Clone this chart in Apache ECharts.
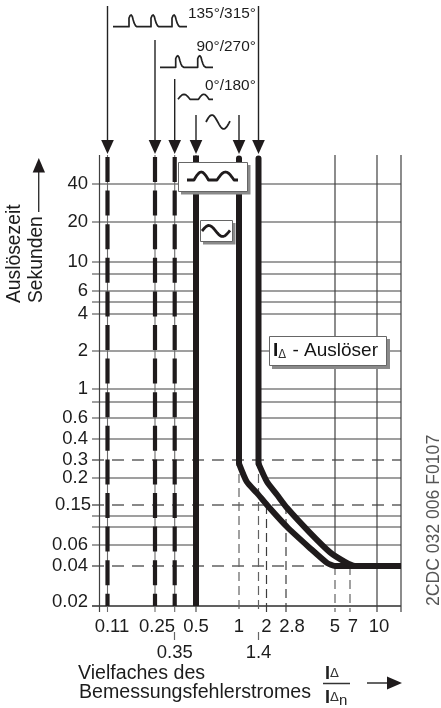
<!DOCTYPE html>
<html><head><meta charset="utf-8">
<style>html,body{margin:0;padding:0;background:#fff}#c{width:441px;height:708px}</style>
<script src="https://cdn.jsdelivr.net/npm/echarts@6/dist/echarts.min.js"></script>
</head><body><div id="c"></div>
<script>
// ---- values ----
const xLabelsTop = [0.11, 0.25, 0.5, 1, 2, 2.8, 5, 7, 10];
const xLabelsLow = [0.35, 1.4];
const yLabels = [40, 20, 10, 6, 4, 2, 1, 0.6, 0.4, 0.3, 0.2, 0.15, 0.06, 0.04, 0.02];
const ySolidLines = [40, 20, 10, 8, 6, 5, 4, 2, 1, 0.8, 0.6, 0.4, 0.2, 0.125, 0.1, 0.06];
const yDashedLines = [0.3, 0.15, 0.04];
const pulsedLimits = [0.11, 0.25, 0.35];
const curveLowerX = [1, 1.16, 1.37, 2.02, 2.85, 3.88, 4.64, 5, 14];
const curveLowerT = [0.28, 0.193, 0.172, 0.15, 0.1, 0.057, 0.043, 0.04, 0.04];
const curveUpperX = [1.4, 2.02, 2.43, 2.85, 3.88, 4.78, 6.33, 7.56, 14];
const curveUpperT = [0.28, 0.193, 0.169, 0.143, 0.087, 0.053, 0.044, 0.04, 0.04];

// ---- the printed scale is schematic (not a true log scale): stops and where they sit ----
const xStops = [0.1, 0.11, 0.25, 0.35, 0.5, 1, 1.4, 2, 2.8, 5, 7, 10, 14];
const xStopAt = [99.5, 107.5, 155, 174.7, 196, 239, 258.5, 266.5, 286, 335, 350, 377, 401];
const yStops = [60, 40, 20, 10, 8, 6, 5, 4, 2, 1, 0.8, 0.6, 0.4, 0.3, 0.2, 0.15, 0.125, 0.1, 0.06, 0.04, 0.02];
const yStopAt = [155, 184, 222, 262, 274, 291, 302, 314, 351, 389, 402, 418, 439, 460, 478, 505, 516, 527, 545, 566, 606];
const X0 = 92, X1 = 401.6, Y0 = 155, Y1 = 612;
const X = v => xStopAt[xStops.indexOf(v)] ?? interp(v, xStops, xStopAt);
const Y = v => yStopAt[yStops.indexOf(v)] ?? interp(v, yStops, yStopAt);
function interp(v, a, b) {
  for (let i = 0; i < a.length - 1; i++) {
    const lo = Math.min(a[i], a[i + 1]), hi = Math.max(a[i], a[i + 1]);
    if (v >= lo && v <= hi) return b[i] + (v - a[i]) / (a[i + 1] - a[i]) * (b[i + 1] - b[i]);
  }
  return b[0];
}
const FONT = '"Liberation Sans", Arial, sans-serif';
const INK = '#1f1b1c', LINE = '#404040', DASH = '#626262', TXT = '#1c1c1c';

// position of the upper curve at a given time, in axis units
function upperAt(t) {
  if (t >= 0.28) return X(1.4);
  const ys = curveUpperT.map(Y), xs = curveUpperX.map(X), p = Y(t);
  for (let i = 0; i < ys.length - 1; i++) {
    if (p >= ys[i] && p <= ys[i + 1]) return xs[i] + (p - ys[i]) / ((ys[i + 1] - ys[i]) || 1) * (xs[i + 1] - xs[i]);
  }
  return X(14);
}

const series = [];
function seg(pts, width, color, dash, opt) {
  series.push(Object.assign({
    type: 'line', data: pts, showSymbol: false, silent: true, animation: false,
    lineStyle: { width, color, type: dash || 'solid', cap: (opt && opt.cap) || 'butt', join: 'round' }
  }, opt && opt.extra));
}
// horizontal lines: solid ones stop at the 0.5 line and restart right of the upper curve
ySolidLines.forEach(t => {
  seg([[X0, Y(t)], [X(0.5), Y(t)]], 1.2, LINE);
  seg([[upperAt(t), Y(t)], [X(14), Y(t)]], 1.2, LINE);
});
yDashedLines.forEach(t => seg([[X0, Y(t)], [X(14), Y(t)]], 1.3, DASH, [12, 8]));
seg([[X0, Y(0.02)], [X(14), Y(0.02)]], 1.6, '#2c2c2c');
// vertical lines
[0.1, 10, 14].forEach(v => seg([[X(v), Y0], [X(v), Y1]], 1.2, LINE));
pulsedLimits.forEach(v => seg([[X(v), Y0], [X(v), Y1]], 1.1, '#6c6c6c'));
seg([[X(0.5), Y0], [X(0.5), Y1]], 1.1, LINE);
seg([[X(5), Y0], [X(5), Y(0.05)]], 1.2, LINE);
seg([[X(1), Y(0.3)], [X(1), Y1]], 1.2, DASH, [9, 5]);
seg([[X(1.4), Y(0.3)], [X(1.4), Y1]], 1.2, DASH, [9, 5]);
seg([[X(2), Y(0.15)], [X(2), Y1]], 1.2, '#3c3c3c', [9, 5]);
seg([[X(2.8), Y(0.15)], [X(2.8), Y1]], 1.2, '#3c3c3c', [9, 5]);
seg([[X(5), Y(0.04)], [X(5), Y1]], 1.2, DASH, [9, 5]);
seg([[X(7), Y(0.04)], [X(7), Y1]], 1.2, DASH, [9, 5]);
// limits
pulsedLimits.forEach(v => seg([[X(v), 157], [X(v), Y(0.02)]], 4.2, INK, [25, 8.6]));
seg([[X(0.5), Y0 + 0.5], [X(0.5), Y(0.02)]], 6, INK);
[[1, curveLowerX, curveLowerT], [1.4, curveUpperX, curveUpperT]].forEach(([x0, xs, ts]) => {
  seg([[X(x0), Y0 + 3.5], [X(x0), Y(ts[0])]], 6, INK, null, { cap: 'round' });
  seg(xs.map((v, i) => [X(v), Y(ts[i])]), 6, INK, null, { extra: { smooth: 0.2 } });
});

// ---- annotations ----
const g = [];
const Z = 50;
function poly(points, w, color, z) {
  g.push({ type: 'polyline', z: z || Z, silent: true, shape: { points }, style: { stroke: color || INK, lineWidth: w, fill: null, lineJoin: 'round', lineCap: 'butt' } });
}
function head(points) {
  g.push({ type: 'polygon', z: Z, silent: true, shape: { points }, style: { fill: INK, stroke: null } });
}
function text(t, x, y, opt) {
  g.push(Object.assign({ type: 'text', z: Z + 2, silent: true, x, y, style: Object.assign({ text: t, font: '18.5px ' + FONT, fill: TXT, align: 'left', verticalAlign: 'middle' }, opt && opt.style) }, opt && opt.el));
}
function box(x0, y0, x1, y1, sx, sy) {
  g.push({ type: 'rect', z: Z, silent: true, shape: { x: x0 + 3, y: y0 + 3, width: x1 - x0 + sx - 3, height: y1 - y0 + sy - 3 }, style: { fill: '#8a8a8a' } });
  g.push({ type: 'rect', z: Z + 1, silent: true, shape: { x: x0 + .5, y: y0 + .5, width: x1 - x0, height: y1 - y0 }, style: { fill: '#fff', stroke: '#666', lineWidth: 1 } });
}
// arrows from above into the limits
[[0.11, 6], [0.25, 40], [0.35, 79], [0.5, 115], [1, 115], [1.4, 6]].forEach(([v, top]) => {
  const x = X(v);
  poly([[x, top], [x, 142]], 1.4, '#222');
  head([[x - 6.3, 140], [x + 6.3, 140], [x, 154]]);
});
// y title arrow and x title arrow
poly([[38.7, 212], [38.7, 170]], 1.4, '#333');
head([[32.7, 172.5], [45, 172.5], [38.8, 158]]);
poly([[367, 683], [390, 683]], 1.4, '#222');
head([[387, 676.5], [387, 689.5], [402, 683]]);

// wave symbols
function pulse(x, base, top, w) {
  return [[x, base], [x, top + 3], [x + 1, top + .8], [x + 2.2, top], [x + 3.3, top + 1.5], [x + 4.2, top + 5], [x + 5.2, base - 3.5], [x + 6.5, base - 1], [x + w, base]];
}
function bump(x, base, top, w) {
  const n = 10, p = [];
  for (let i = 0; i <= n; i++) p.push([x + w * i / n, base - (base - top) * Math.sin(Math.PI * i / n)]);
  return p;
}
function wave(x, c, amp, w) {
  const n = 20, p = [];
  for (let i = 0; i <= n; i++) p.push([x + w * i / n, c - amp * Math.sin(2 * Math.PI * i / n * 1.02)]);
  return p;
}
poly([[113, 26.7]].concat(pulse(129, 26.7, 15, 8), pulse(151, 26.7, 15, 8), pulse(172, 26.7, 15, 8), [[187, 26.7]]), 1.7, '#222');
poly([[160, 67.3]].concat(pulse(175.7, 67.3, 55.7, 8), pulse(197.7, 67.3, 55.7, 8), [[213, 67.3]]), 1.7, '#222');
poly(bump(178, 99.3, 94.3, 12).concat(bump(198.5, 99.3, 94.3, 10.5), [[213, 99.3]]), 1.7, '#222');
poly(wave(206, 122, 7, 24), 1.8, '#222');

box(178, 162, 247, 191, 3.5, 3.5);
g.push({ type: 'polyline', z: Z + 3, silent: true, shape: { points: [[187, 180], [194, 180]].concat(bump(194, 180, 172, 14.5), [[217, 180]], bump(217, 180, 172, 17), [[238, 180]]) }, style: { stroke: INK, lineWidth: 2.8, fill: null, lineJoin: 'round' } });
box(200, 220, 232, 241, 3.5, 3.5);
g.push({ type: 'polyline', z: Z + 3, silent: true, shape: { points: wave(202, 231, 5.5, 28) }, style: { stroke: INK, lineWidth: 2.8, fill: null, lineJoin: 'round' } });
box(269, 336, 386, 365, 4, 4);
text('{b|I}{s|Δ}{m| - Auslöser}', 273, 351, { style: { rich: { m: { font: '19px ' + FONT, fill: '#141414' }, b: { font: 'bold 19px ' + FONT, fill: '#141414' }, s: { font: '11.5px "DejaVu Sans"', fill: '#333', padding: [9, 1, 0, 0] } } } });

// annotation texts
text('135°/315°', 188, 14, { style: { font: '15.4px ' + FONT } });
text('90°/270°', 196.5, 47, { style: { font: '15.4px ' + FONT } });
text('0°/180°', 205, 86, { style: { font: '15.4px ' + FONT } });
text('Auslösezeit', 15, 303, { el: { rotation: Math.PI / 2 }, style: { font: '19.3px ' + FONT } });
text('Sekunden', 37, 303, { el: { rotation: Math.PI / 2 }, style: { font: '19.3px ' + FONT } });
text('2CDC 032 006 F0107', 434, 606, { el: { rotation: Math.PI / 2 }, style: { font: '17.6px ' + FONT, fill: '#555' } });
text('Vielfaches des', 78, 674, { style: { font: '19.6px ' + FONT } });
text('Bemessungsfehlerstromes', 79, 693, { style: { font: '19.6px ' + FONT } });
const frac = { m: { font: 'bold 18px ' + FONT, fill: '#222' }, d: { font: '13px "DejaVu Sans"', fill: '#333' }, n: { font: '15px ' + FONT, fill: '#222', padding: [6, 0, 0, 0] } };
text('{m|I}{d|Δ}', 325, 674, { style: { rich: frac } });
text('{m|I}{d|Δ}{n|n}', 325, 698, { style: { rich: frac } });
poly([[323, 683.5], [350, 683.5]], 1.5, '#333');

// ---- axis labels ----
const key = v => v.toFixed(3);
const xText = {}, xLow = {}, yText = {};
xLabelsTop.forEach(v => xText[key(X(v))] = v);
xLabelsLow.forEach(v => xLow[key(X(v))] = v);
yLabels.forEach(v => yText[key(Y(v))] = v);
const xNudge = { 0.11: 'a', 0.25: 'b', 2.8: 'c', 7: 'd', 10: 'b' };
const base = { fontFamily: FONT, fontSize: 18.5, color: TXT };
const xRich = { z: base, a: { ...base, padding: [0, 0, 0, 9] }, b: { ...base, padding: [0, 0, 0, 4] }, c: { ...base, padding: [0, 0, 0, 12] }, d: { ...base, padding: [0, 0, 0, 6] } };
const yRich = { z: { ...base, padding: [0, 3, 0, 0] }, f: { ...base, padding: [0, 0, 0, 0] }, u: { ...base, padding: [0, 3, 8, 0] } };

const hiddenLine = { show: false }, noTick = { show: false };
const chart = echarts.init(document.getElementById('c'), null, { renderer: 'canvas' });
chart.setOption({
  animation: false,
  backgroundColor: '#fff',
  grid: { left: X0, top: Y0, width: X1 - X0, height: Y1 - Y0, containLabel: false },
  xAxis: [
    {
      type: 'value', min: X0, max: X1, position: 'bottom', splitLine: { show: false }, axisLine: hiddenLine, axisTick: noTick,
      axisLabel: {
        show: true, customValues: xLabelsTop.map(X), margin: 5, hideOverlap: false, rich: xRich,
        formatter: p => { const v = xText[key(p)]; return '{' + (xNudge[v] || 'z') + '|' + v + '}'; }
      }
    },
    {
      type: 'value', min: X0, max: X1, position: 'bottom', offset: 20, splitLine: { show: false }, axisLine: hiddenLine,
      axisTick: { show: true, customValues: xLabelsLow.map(X), length: 8, lineStyle: { color: '#666', width: 1.2 } },
      axisLabel: { show: true, customValues: xLabelsLow.map(X), margin: 11, ...base, formatter: p => String(xLow[key(p)]) }
    }
  ],
  yAxis: {
    type: 'value', inverse: true, min: Y0, max: Y1, splitLine: { show: false }, axisLine: hiddenLine, axisTick: noTick,
    axisLabel: {
      show: true, customValues: yLabels.map(Y), margin: 1, rich: yRich,
      formatter: p => { const v = yText[key(p)]; return '{' + (v === 0.15 ? 'f' : v === 0.02 ? 'u' : 'z') + '|' + v + '}'; }
    }
  },
  series,
  graphic: g
});
</script></body></html>
